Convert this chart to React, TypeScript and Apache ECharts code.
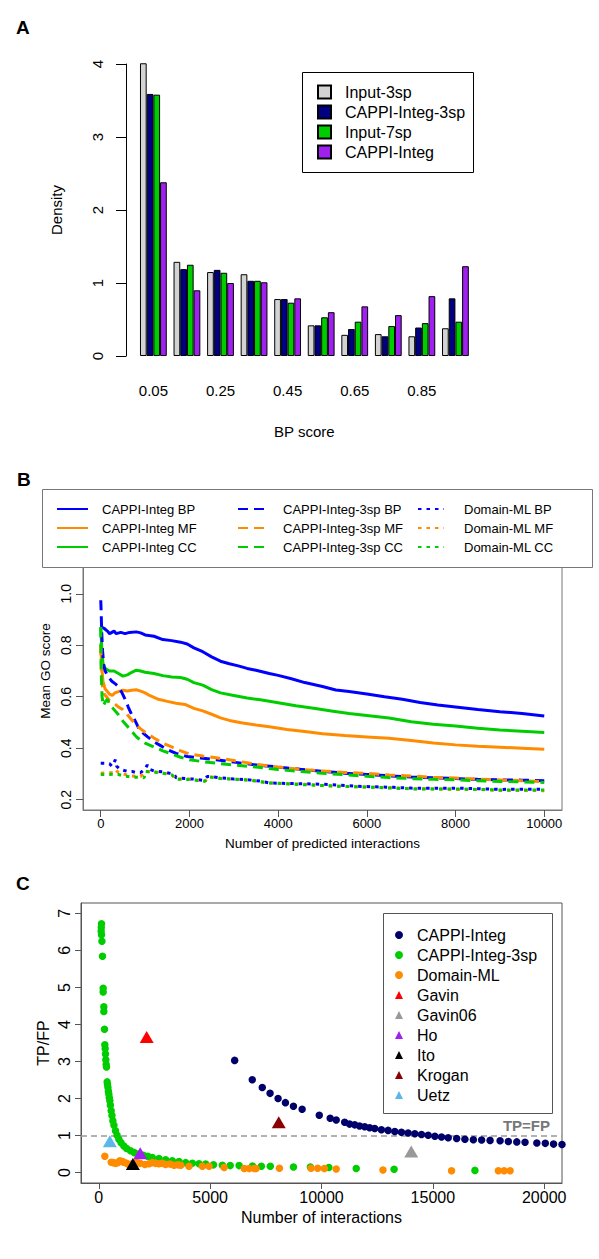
import React, { useEffect, useRef } from "react";
import * as echarts from "echarts";

const FONT = "'Liberation Sans', Arial, Helvetica, sans-serif";

// ---------- Panel A ----------
const binLabels = ["0.05", "0.15", "0.25", "0.35", "0.45", "0.55", "0.65", "0.75", "0.85", "0.95"];
const densInput3sp = [4.01, 1.29, 1.15, 1.12, 0.78, 0.42, 0.29, 0.30, 0.27, 0.38];
const densCappi3sp = [3.59, 1.19, 1.18, 1.03, 0.78, 0.42, 0.37, 0.27, 0.39, 0.79];
const densInput7sp = [3.58, 1.25, 1.14, 1.03, 0.73, 0.53, 0.47, 0.41, 0.45, 0.47];
const densCappiInteg = [2.38, 0.90, 1.00, 1.01, 0.79, 0.60, 0.68, 0.56, 0.82, 1.23];
const aYTicks = [0, 1, 2, 3, 4];

// ---------- Panel B ----------
const bXTicks = [0, 2000, 4000, 6000, 8000, 10000];
const bYTicks = [0.2, 0.4, 0.6, 0.8, 1.0];
const integBP = [[0,0.875],[30,0.87],[80,0.865],[150,0.855],[200,0.845],[250,0.85],[300,0.855],[350,0.845],[450,0.85],[550,0.845],[650,0.85],[800,0.852],[900,0.848],[1000,0.84],[1200,0.835],[1400,0.822],[1600,0.818],[1800,0.812],[1950,0.805],[2100,0.79],[2300,0.775],[2500,0.755],[2700,0.738],[2900,0.728],[3100,0.72],[3300,0.71],[3500,0.703],[3800,0.69],[4000,0.683],[4300,0.67],[4600,0.655],[5000,0.64],[5300,0.626],[5600,0.62],[6000,0.611],[6400,0.6],[6800,0.59],[7200,0.578],[7600,0.568],[8000,0.56],[8500,0.55],[9000,0.542],[9500,0.535],[10000,0.525]];
const integMF = [[0,0.80],[20,0.72],[50,0.66],[100,0.63],[150,0.62],[200,0.61],[260,0.605],[320,0.615],[400,0.62],[500,0.625],[600,0.622],[700,0.625],[800,0.627],[900,0.622],[1000,0.615],[1100,0.605],[1300,0.59],[1500,0.582],[1700,0.575],[1900,0.57],[2100,0.555],[2300,0.545],[2500,0.532],[2700,0.518],[2900,0.508],[3200,0.498],[3500,0.49],[3800,0.483],[4200,0.473],[4600,0.465],[5000,0.456],[5500,0.449],[6000,0.444],[6500,0.439],[7000,0.43],[7500,0.42],[8000,0.413],[8500,0.408],[9000,0.404],[9500,0.40],[10000,0.396]];
const integCC = [[0,0.87],[20,0.80],[50,0.73],[100,0.71],[150,0.705],[200,0.70],[300,0.70],[400,0.69],[500,0.68],[600,0.685],[700,0.695],[800,0.703],[900,0.70],[1000,0.695],[1200,0.69],[1400,0.682],[1600,0.677],[1800,0.675],[1950,0.668],[2100,0.655],[2300,0.645],[2500,0.628],[2700,0.615],[3000,0.605],[3300,0.595],[3600,0.588],[4000,0.577],[4400,0.565],[4800,0.555],[5200,0.545],[5600,0.535],[6000,0.527],[6500,0.517],[7000,0.503],[7500,0.493],[8000,0.486],[8500,0.478],[9000,0.471],[9500,0.466],[10000,0.461]];
const sp3BP = [[0,0.975],[10,0.93],[20,0.86],[40,0.78],[70,0.72],[100,0.70],[130,0.69],[180,0.675],[250,0.66],[330,0.65],[400,0.64],[480,0.615],[550,0.59],[620,0.56],[700,0.53],[780,0.505],[850,0.48],[950,0.46],[1050,0.445],[1200,0.425],[1350,0.41],[1500,0.395],[1700,0.38],[1950,0.368],[2250,0.362],[2600,0.355],[3000,0.346],[3500,0.335],[4000,0.327],[4500,0.318],[5000,0.31],[5500,0.303],[6000,0.298],[6500,0.293],[7000,0.288],[7500,0.285],[8000,0.282],[8500,0.279],[9000,0.277],[9500,0.276],[10000,0.274]];
const sp3MF = [[0,0.80],[15,0.70],[40,0.64],[80,0.61],[130,0.60],[200,0.585],[300,0.575],[400,0.56],[500,0.55],[600,0.53],[700,0.51],[800,0.49],[900,0.475],[1000,0.462],[1200,0.44],[1400,0.42],[1600,0.405],[1800,0.39],[2000,0.378],[2300,0.37],[2600,0.363],[3000,0.352],[3500,0.338],[4000,0.327],[4500,0.318],[5000,0.312],[5500,0.306],[6000,0.302],[6500,0.296],[7000,0.292],[7500,0.287],[8000,0.284],[8500,0.28],[9000,0.277],[9500,0.274],[10000,0.27]];
const sp3CC = [[0,0.87],[10,0.70],[30,0.60],[60,0.565],[100,0.58],[150,0.59],[200,0.57],[300,0.55],[400,0.53],[500,0.505],[600,0.485],[700,0.465],[800,0.445],[900,0.43],[1000,0.42],[1200,0.405],[1400,0.39],[1600,0.378],[1800,0.365],[2000,0.355],[2300,0.348],[2600,0.342],[3000,0.335],[3500,0.327],[4000,0.317],[4500,0.31],[5000,0.303],[5500,0.297],[6000,0.291],[6500,0.286],[7000,0.282],[7500,0.279],[8000,0.277],[8500,0.274],[9000,0.271],[9500,0.269],[10000,0.267]];
const dmlBP = [[0,0.342],[100,0.342],[200,0.34],[250,0.33],[300,0.345],[330,0.355],[360,0.33],[420,0.32],[500,0.315],[600,0.31],[700,0.31],[800,0.305],[900,0.305],[1000,0.32],[1050,0.335],[1100,0.318],[1200,0.312],[1400,0.308],[1550,0.303],[1650,0.3],[1700,0.285],[1900,0.282],[2100,0.28],[2300,0.275],[2400,0.29],[2500,0.29],[2700,0.285],[3000,0.28],[3300,0.278],[3600,0.272],[3800,0.265],[4200,0.263],[4600,0.262],[5000,0.26],[5400,0.256],[5800,0.252],[6200,0.25],[6600,0.248],[7000,0.245],[7500,0.244],[8000,0.245],[8500,0.243],[9000,0.24],[9500,0.241],[10000,0.24]];
const dmlMF = [[0,0.303],[200,0.305],[300,0.305],[340,0.315],[400,0.305],[500,0.3],[700,0.292],[900,0.29],[1000,0.31],[1200,0.308],[1400,0.303],[1600,0.297],[1700,0.28],[2000,0.28],[2200,0.275],[2350,0.272],[2450,0.29],[2700,0.283],[3000,0.28],[3400,0.275],[3800,0.265],[4200,0.262],[4600,0.26],[5000,0.255],[5400,0.252],[5800,0.25],[6200,0.248],[6600,0.246],[7000,0.243],[7500,0.242],[8000,0.24],[8500,0.24],[9000,0.236],[9500,0.236],[10000,0.235]];
const dmlCC = [[0,0.298],[200,0.298],[350,0.3],[400,0.298],[500,0.293],[700,0.288],[900,0.287],[980,0.285],[1000,0.31],[1200,0.308],[1400,0.303],[1600,0.297],[1700,0.28],[2000,0.278],[2200,0.275],[2350,0.272],[2450,0.288],[2700,0.282],[3000,0.28],[3400,0.275],[3800,0.265],[4200,0.262],[4600,0.258],[5000,0.255],[5400,0.252],[5800,0.25],[6200,0.248],[6600,0.245],[7000,0.242],[7500,0.242],[8000,0.242],[8500,0.24],[9000,0.238],[9500,0.238],[10000,0.238]];

// ---------- Panel C ----------
const cXTicks = [0, 5000, 10000, 15000, 20000];
const cYTicks = [0, 1, 2, 3, 4, 5, 6, 7];
const cCappiInteg = [[6100,3.03],[6890,2.51],[7340,2.30],[7690,2.14],[8050,2.0],[8380,1.89],[8740,1.79],[9130,1.71],[9900,1.55],[10390,1.47],[10660,1.42],[11040,1.36],[11260,1.31],[11490,1.29],[11710,1.26],[11940,1.24],[12160,1.21],[12390,1.19],[12690,1.16],[12990,1.14],[13290,1.11],[13590,1.09],[13890,1.07],[14190,1.05],[14490,1.03],[14790,1.01],[15090,0.98],[15390,0.96],[15690,0.94],[16070,0.92],[16440,0.90],[16820,0.89],[17190,0.88],[17570,0.87],[18020,0.86],[18390,0.84],[18770,0.83],[19140,0.82],[19670,0.80],[20050,0.79],[20420,0.77],[20800,0.76]];
const cCappi3sp = [[120,6.72],[110,6.62],[105,6.52],[120,6.42],[140,6.25],[165,5.84],[195,4.98],[195,4.88],[225,4.48],[225,4.35],[255,3.87],[270,3.45],[285,3.35],[300,3.2],[315,3.05],[330,2.92],[345,2.85],[375,2.45],[390,2.38],[410,2.3],[430,2.2],[450,2.12],[470,2.03],[495,1.94],[520,1.82],[555,1.67],[590,1.54],[630,1.40],[680,1.28],[750,1.13],[820,1.01],[900,0.9],[1000,0.81],[1125,0.72],[1250,0.65],[1425,0.59],[1600,0.54],[1800,0.5],[2000,0.47],[2200,0.44],[2400,0.41],[2700,0.38],[3000,0.35],[3300,0.32],[3600,0.3],[3900,0.27],[4200,0.25],[4500,0.24],[4800,0.23],[5150,0.21],[5550,0.2],[5900,0.19],[6300,0.19],[6900,0.18],[7300,0.17],[7700,0.17],[8740,0.15],[9500,0.15],[10330,0.14],[11560,0.11],[13260,0.09],[16890,0.06]];
const cDomainML = [[270,0.44],[555,0.28],[650,0.27],[750,0.25],[850,0.27],[945,0.32],[1050,0.3],[1125,0.28],[1250,0.25],[1350,0.22],[1500,0.24],[1680,0.28],[1850,0.25],[2070,0.22],[2250,0.24],[2400,0.27],[2550,0.25],[2700,0.24],[2850,0.25],[3000,0.22],[3200,0.23],[3380,0.2],[3550,0.21],[3680,0.2],[4050,0.17],[4650,0.17],[4950,0.17],[5630,0.14],[6530,0.11],[6750,0.11],[6980,0.11],[7060,0.11],[8110,0.12],[9530,0.12],[9830,0.12],[10130,0.11],[10660,0.1],[12760,0.07],[15840,0.05],[17940,0.05],[18200,0.05],[18470,0.05]];
const cGavin = [[2150, 3.66]];
const cGavin06 = [[14030, 0.57]];
const cHo = [[1860, 0.52]];
const cIto = [[1530, 0.23]];
const cKrogan = [[8080, 1.36]];
const cUetz = [[495, 0.85]];

const txt = (size: number, extra: any = {}) => ({ fontFamily: FONT, fontSize: size, color: "#000", ...extra });
const stripC = (n: string) => n.replace(/^c:/, "");

function buildOption(): any {
  const barSeries = [
    { name: "Input-3sp", data: densInput3sp, color: "#D3D3D3" },
    { name: "CAPPI-Integ-3sp", data: densCappi3sp, color: "#000080" },
    { name: "Input-7sp", data: densInput7sp, color: "#00CD00" },
    { name: "CAPPI-Integ", data: densCappiInteg, color: "#A020F0" },
  ].map((s) => ({
    type: "bar",
    name: s.name,
    xAxisIndex: 0,
    yAxisIndex: 0,
    data: s.data,
    barWidth: 6.7,
    barGap: "0%",
    clip: false,
    itemStyle: { color: s.color, borderColor: "#000", borderWidth: 1 },
  }));

  const blue = "#0000FF", orange = "#FF8C00", green = "#00CD00";
  const solid = "solid", dashed = [10, 6], dotted = [3.5, 5];
  const lineDefs = [
    { name: "CAPPI-Integ BP", data: integBP, color: blue, type: solid },
    { name: "CAPPI-Integ MF", data: integMF, color: orange, type: solid },
    { name: "CAPPI-Integ CC", data: integCC, color: green, type: solid },
    { name: "CAPPI-Integ-3sp BP", data: sp3BP, color: blue, type: dashed },
    { name: "CAPPI-Integ-3sp MF", data: sp3MF, color: orange, type: dashed },
    { name: "CAPPI-Integ-3sp CC", data: sp3CC, color: green, type: dashed },
    { name: "Domain-ML BP", data: dmlBP, color: blue, type: dotted },
    { name: "Domain-ML MF", data: dmlMF, color: orange, type: dotted },
    { name: "Domain-ML CC", data: dmlCC, color: green, type: dotted },
  ];
  const lineSeries = lineDefs.map((d) => ({
    type: "line",
    name: d.name,
    xAxisIndex: 1,
    yAxisIndex: 1,
    data: d.data,
    symbol: "none",
    showSymbol: false,
    color: d.color,
    lineStyle: { color: d.color, width: 3, type: d.type },
  }));

  const scatterDefs = [
    { name: "c:CAPPI-Integ", data: cCappiInteg, color: "#00006B", symbol: "circle", size: 7.5 },
    { name: "c:CAPPI-Integ-3sp", data: cCappi3sp, color: "#00CD00", symbol: "circle", size: 7.5 },
    { name: "c:Domain-ML", data: cDomainML, color: "#FF8C00", symbol: "circle", size: 7.5 },
    { name: "c:Gavin", data: cGavin, color: "#FF0000", symbol: "triangle", size: [14, 12] },
    { name: "c:Gavin06", data: cGavin06, color: "#999999", symbol: "triangle", size: [14, 12] },
    { name: "c:Ho", data: cHo, color: "#A020F0", symbol: "triangle", size: [14, 12] },
    { name: "c:Ito", data: cIto, color: "#000000", symbol: "triangle", size: [14, 12] },
    { name: "c:Krogan", data: cKrogan, color: "#8B0000", symbol: "triangle", size: [14, 12] },
    { name: "c:Uetz", data: cUetz, color: "#5DB6EA", symbol: "triangle", size: [14, 12] },
  ];
  const scatterSeries: any[] = scatterDefs.map((d, i) => {
    const s: any = {
      type: "scatter",
      name: d.name,
      xAxisIndex: 2,
      yAxisIndex: 2,
      data: d.data,
      symbol: d.symbol,
      symbolSize: d.size,
      color: d.color,
      itemStyle: { color: d.color, opacity: 1 },
      z: d.symbol === "triangle" ? 4 : 3,
    };
    if (i === 0) {
      s.markLine = {
        silent: true,
        symbol: "none",
        z: 2,
        data: [{ yAxis: 1 }],
        lineStyle: { color: "#999", width: 1.5, type: [6, 4] },
        label: {
          show: true,
          position: "insideEndTop",
          formatter: "TP=FP",
          fontFamily: FONT,
          fontSize: 15,
          fontWeight: "bold",
          color: "#777",
          distance: [12, 3],
        },
      };
    }
    return s;
  });

  const legendBase = { selectedMode: false, orient: "vertical", z: 6, padding: 0 };
  const lineLegend = {
    ...legendBase,
    top: 502,
    itemHeight: 14,
    itemGap: 5,
    itemStyle: { opacity: 0, color: "transparent", borderWidth: 0 },
  };

  return {
    animation: false,
    backgroundColor: "#fff",
    textStyle: { fontFamily: FONT },
    grid: [
      { left: 136.6, top: 64, width: 335.6, height: 292, show: false },
      { left: 83, top: 532, width: 479, height: 278, show: true, borderColor: "#777", borderWidth: 1, backgroundColor: "transparent" },
      { left: 81, top: 903, width: 481, height: 280, show: true, borderColor: "#555", borderWidth: 1, backgroundColor: "transparent" },
    ],
    xAxis: [
      {
        gridIndex: 0,
        type: "category",
        data: binLabels,
        axisLine: { show: false },
        axisTick: { show: false },
        axisLabel: { interval: 1, margin: 27, ...txt(15) },
        name: "BP score",
        nameLocation: "middle",
        nameGap: 68,
        nameTextStyle: txt(15),
      },
      {
        gridIndex: 1,
        type: "value",
        min: -400,
        max: 10400,
        splitLine: { show: false },
        axisLine: { show: true, onZero: false, lineStyle: { color: "#777" } },
        axisTick: { show: true, length: 7, customValues: bXTicks, lineStyle: { color: "#555" } },
        axisLabel: { customValues: bXTicks, margin: 7, formatter: (v: number) => String(v), ...txt(13) },
        name: "Number of predicted interactions",
        nameLocation: "middle",
        nameGap: 26,
        nameTextStyle: txt(13.5),
      },
      {
        gridIndex: 2,
        type: "value",
        min: -800,
        max: 20800,
        splitLine: { show: false },
        axisLine: { show: true, onZero: false, lineStyle: { color: "#555" } },
        axisTick: { show: true, length: 6, customValues: cXTicks, lineStyle: { color: "#555" } },
        axisLabel: { customValues: cXTicks, margin: 6, formatter: (v: number) => String(v), ...txt(16) },
        name: "Number of interactions",
        nameLocation: "middle",
        nameGap: 26,
        nameTextStyle: txt(16),
      },
    ],
    yAxis: [
      {
        gridIndex: 0,
        type: "value",
        min: 0,
        max: 4,
        interval: 1,
        offset: 10.6,
        splitLine: { show: false },
        axisLine: { show: true, onZero: false, lineStyle: { color: "#000" } },
        axisTick: { show: true, length: 10, lineStyle: { color: "#000" } },
        axisLabel: { show: false },
        name: "Density",
        nameLocation: "middle",
        nameGap: 62,
        nameTextStyle: txt(15),
      },
      {
        gridIndex: 1,
        type: "value",
        min: 0.16,
        max: 1.24,
        splitLine: { show: false },
        axisLine: { show: true, onZero: false, lineStyle: { color: "#777" } },
        axisTick: { show: true, length: 7, customValues: bYTicks, lineStyle: { color: "#555" } },
        axisLabel: { show: false },
        name: "Mean GO score",
        nameLocation: "middle",
        nameGap: 31,
        nameTextStyle: txt(13.5),
      },
      {
        gridIndex: 2,
        type: "value",
        min: -0.28,
        max: 7.28,
        splitLine: { show: false },
        axisLine: { show: true, onZero: false, lineStyle: { color: "#555" } },
        axisTick: { show: true, length: 6, customValues: cYTicks, lineStyle: { color: "#555" } },
        axisLabel: { show: false },
        name: "TP/FP",
        nameLocation: "middle",
        nameGap: 30,
        nameTextStyle: txt(16),
      },
    ],
    legend: [
      {
        ...legendBase,
        left: 317,
        top: 84,
        itemWidth: 13,
        itemHeight: 13,
        itemGap: 4,
        icon: "rect",
        data: ["Input-3sp", "CAPPI-Integ-3sp", "Input-7sp", "CAPPI-Integ"].map((n) => ({ name: n })),
        textStyle: { ...txt(16), lineHeight: 16, padding: [0, 0, 0, 9] },
      },
      {
        ...lineLegend,
        left: 56,
        itemWidth: 31,
        data: ["CAPPI-Integ BP", "CAPPI-Integ MF", "CAPPI-Integ CC"],
        textStyle: { ...txt(13), lineHeight: 14, padding: [0, 0, 0, 9] },
      },
      {
        ...lineLegend,
        left: 237,
        itemWidth: 31,
        data: ["CAPPI-Integ-3sp BP", "CAPPI-Integ-3sp MF", "CAPPI-Integ-3sp CC"],
        textStyle: { ...txt(13), lineHeight: 14, padding: [0, 0, 0, 9] },
      },
      {
        ...lineLegend,
        left: 417,
        itemWidth: 26,
        data: ["Domain-ML BP", "Domain-ML MF", "Domain-ML CC"],
        textStyle: { ...txt(13), lineHeight: 14, padding: [0, 0, 0, 15] },
      },
      {
        ...legendBase,
        left: 395,
        top: 927,
        itemWidth: 8,
        itemHeight: 8,
        itemGap: 4,
        formatter: stripC,
        data: scatterDefs.map((d) => ({ name: d.name })),
        textStyle: { ...txt(16), lineHeight: 16, padding: [0, 0, 0, 9] },
      },
    ],
    graphic: [
      { type: "rect", id: "frameA", z: 5, shape: { x: 302.5, y: 72.5, width: 171, height: 100 }, style: { fill: "#fff", stroke: "#000", lineWidth: 1 } },
      { type: "rect", id: "frameB", z: 5, shape: { x: 42.5, y: 489.5, width: 550, height: 78 }, style: { fill: "#fff", stroke: "#777", lineWidth: 1 } },
      { type: "rect", id: "frameC", z: 5, shape: { x: 383.5, y: 913.5, width: 169, height: 200 }, style: { fill: "#fff", stroke: "#555", lineWidth: 1 } },
      { type: "text", id: "lettA", z: 10, x: 16, y: 27, style: { text: "A", font: `bold 19px ${FONT}`, fill: "#000", verticalAlign: "middle" } },
      { type: "text", id: "lettB", z: 10, x: 17, y: 479, style: { text: "B", font: `bold 19px ${FONT}`, fill: "#000", verticalAlign: "middle" } },
      { type: "text", id: "lettC", z: 10, x: 16, y: 883, style: { text: "C", font: `bold 19px ${FONT}`, fill: "#000", verticalAlign: "middle" } },
    ],
    series: [...barSeries, ...lineSeries, ...scatterSeries],
  };
}

// Vertical (bottom-to-top) y tick labels, placed with the y axes' own scales.
const QUARTER_TURN = Math.PI / 2 - 0.0005;
function yTickLabels(chart: any): any[] {
  const specs = [
    { axis: 0, ticks: aYTicks, x: 97, size: 15, fmt: (v: number) => String(v) },
    { axis: 1, ticks: bYTicks, x: 66, size: 14, fmt: (v: number) => v.toFixed(1) },
    { axis: 2, ticks: cYTicks, x: 64, size: 16, fmt: (v: number) => String(v) },
  ];
  const out: any[] = [];
  specs.forEach((s) => {
    s.ticks.forEach((v) => {
      const py = chart.convertToPixel({ yAxisIndex: s.axis }, v) as number;
      out.push({
        type: "text",
        id: `ytl-${s.axis}-${v}`,
        z: 10,
        x: s.x,
        y: py,
        rotation: QUARTER_TURN,
        originX: 0,
        originY: 0,
        style: { text: s.fmt(v), font: `${s.size}px ${FONT}`, fill: "#000", align: "center", verticalAlign: "middle" },
      });
    });
  });
  return out;
}

export default function App() {
  const ref = useRef<HTMLDivElement>(null);
  useEffect(() => {
    if (!ref.current) return;
    const chart = echarts.init(ref.current, null, { renderer: "svg", width: 599, height: 1259 });
    const option = buildOption();
    chart.setOption(option);
    const full = { ...option, graphic: [...option.graphic, ...yTickLabels(chart)] };
    chart.setOption(full, true);
    return () => chart.dispose();
  }, []);
  return (
    <div
      ref={ref}
      style={{ position: "absolute", left: 0, top: 0, width: 599, height: 1259, background: "#fff" }}
    />
  );
}
